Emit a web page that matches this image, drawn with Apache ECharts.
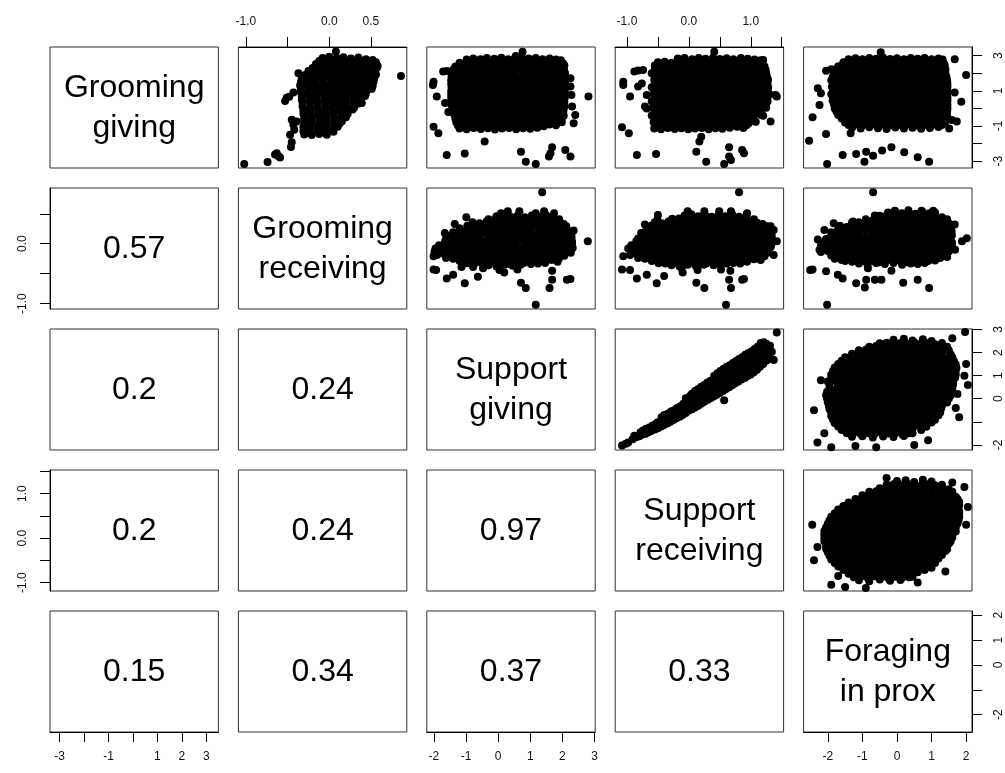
<!DOCTYPE html>
<html><head><meta charset="utf-8">
<script src="https://cdn.jsdelivr.net/npm/echarts@6/dist/echarts.min.js"></script>
<style>html,body{margin:0;padding:0;background:#fff}#c{width:1005px;height:773px}</style>
</head><body><div id="c"></div>
<script>
// ---------- variables & axes ----------
const varNames = ['Grooming\ngiving','Grooming\nreceiving','Support\ngiving','Support\nreceiving','Foraging\nin prox'];
const axisMin = [-3.39,-1.09,-2.22,-1.19,-2.70];
const axisMax = [3.49,0.93,3.02,1.53,2.17];
const tickValues = [[-3,-2,-1,0,1,2,3],[-1,-0.5,0,0.5],[-2,-1,0,1,2,3],[-1,-0.5,0,0.5,1,1.5],[-2,-1,0,1,2]];
const tickDecimals = [0,1,0,1,0];
const xLabelValues = [[-3,-1,1,2,3],[-1,0,0.5],[-2,-1,0,1,2,3],[-1,0,1],[-2,-1,0,1,2]];
const yLabelValues = [[-3,-1,1,3],[-1,0],[-2,0,1,2,3],[-1,0,1],[-2,0,1,2]];
// correlations, lower triangle: corrValues[i-1][j] for row i > column j
const corrValues = [[0.57],[0.2,0.24],[0.2,0.24,0.97],[0.15,0.34,0.37,0.33]];

// ---------- scatter panels: pNM = x: variable M, y: variable N ----------
const p12 = [[-1.02,-3.16],[-0.74,-3.05],[-0.65,-2.62],[-0.61,-2.72],[-0.59,-2.8],[-0.63,-2.55],[-0.46,-2.2],[-0.45,-1.92],[-0.47,-1.5],[-0.42,-1.22],[-0.43,-0.93],[-0.45,-0.64],[-0.39,-0.74],[-0.53,0.42],[-0.48,0.66],[-0.43,0.9],[-0.51,0.6],[-0.37,2.0],[0.86,1.84],[0.08,3.23],[0.39,0.3],[0.51,1.12],
[-0.08,2.87],[0.0,2.94],[0.09,2.86],[0.17,2.91],[0.26,2.84],[0.35,2.9],[0.44,2.79],[0.52,2.75],
[-0.16,2.53],[-0.07,2.47],[0.02,2.56],[0.1,2.5],[0.19,2.45],[0.27,2.54],[0.36,2.48],[0.44,2.44],[0.53,2.51],[0.58,2.41],
[-0.25,2.12],[-0.15,2.06],[-0.06,2.15],[0.03,2.09],[0.12,2.13],[0.2,2.05],[0.29,2.11],[0.38,2.07],[0.46,2.14],[0.55,2.08],
[-0.33,1.72],[-0.24,1.66],[-0.15,1.75],[-0.07,1.69],[0.02,1.71],[0.11,1.65],[0.2,1.74],[0.28,1.68],[0.37,1.72],[0.45,1.66],[0.54,1.7],
[-0.35,1.3],[-0.27,1.34],[-0.18,1.27],[-0.09,1.32],[0.0,1.28],[0.08,1.35],[0.17,1.29],[0.26,1.33],[0.34,1.26],[0.43,1.31],[0.52,1.27],
[-0.34,0.92],[-0.26,0.86],[-0.17,0.94],[-0.08,0.88],[0.01,0.91],[0.1,0.85],[0.18,0.93],[0.27,0.87],[0.36,0.9],[0.44,0.84],
[-0.33,0.5],[-0.24,0.54],[-0.15,0.47],[-0.06,0.52],[0.02,0.48],[0.11,0.55],[0.2,0.49],[0.29,0.53],[0.37,0.46],
[-0.32,0.12],[-0.23,0.06],[-0.14,0.14],[-0.05,0.08],[0.04,0.11],[0.12,0.05],[0.21,0.13],[0.3,0.07],
[-0.31,-0.3],[-0.22,-0.26],[-0.13,-0.33],[-0.04,-0.28],[0.05,-0.31],[0.14,-0.25],[0.22,-0.32],
[-0.3,-0.68],[-0.21,-0.73],[-0.12,-0.66],[-0.03,-0.71],[0.06,-0.69],[0.15,-0.74],
[-0.31,-1.08],[-0.22,-1.12],[-0.13,-1.06],[-0.04,-1.1],[0.05,-1.14],[0.1,-1.05],
[-0.3,-1.48],[-0.21,-1.52],[-0.12,-1.46],[-0.03,-1.5],
[-0.12,2.7],[-0.03,2.73],[0.06,2.68],[0.14,2.72],[0.23,2.67],[0.31,2.71],[0.4,2.69],[0.48,2.66],[0.56,2.62],
[-0.2,2.3],[-0.11,2.33],[-0.02,2.28],[0.07,2.32],[0.15,2.27],[0.24,2.31],[0.32,2.29],[0.41,2.34],[0.5,2.28],[0.57,2.3],
[-0.29,1.9],[-0.2,1.93],[-0.11,1.88],[-0.02,1.92],[0.07,1.87],[0.16,1.91],[0.24,1.89],[0.33,1.94],[0.42,1.88],[0.5,1.9],[0.56,1.92],
[-0.34,1.5],[-0.25,1.53],[-0.16,1.48],[-0.07,1.52],[0.02,1.47],[0.1,1.51],[0.19,1.49],[0.28,1.54],[0.36,1.48],[0.45,1.5],[0.53,1.52],
[-0.34,1.1],[-0.25,1.13],[-0.16,1.08],[-0.07,1.12],[0.02,1.07],[0.1,1.11],[0.19,1.09],[0.28,1.14],[0.36,1.08],[0.45,1.1],[0.5,1.12],
[-0.33,0.7],[-0.24,0.73],[-0.15,0.68],[-0.06,0.72],[0.03,0.67],[0.12,0.71],[0.2,0.69],[0.29,0.74],[0.38,0.68],[0.43,0.7],
[-0.32,0.3],[-0.23,0.33],[-0.14,0.28],[-0.05,0.32],[0.04,0.27],[0.12,0.31],[0.21,0.29],[0.3,0.34],[0.36,0.28],
[-0.31,-0.1],[-0.22,-0.07],[-0.13,-0.12],[-0.04,-0.08],[0.05,-0.13],[0.14,-0.09],[0.22,-0.11],[0.28,-0.06],
[-0.3,-0.5],[-0.21,-0.47],[-0.12,-0.52],[-0.03,-0.48],[0.06,-0.53],[0.15,-0.49],[0.2,-0.51],
[-0.3,-0.9],[-0.21,-0.87],[-0.12,-0.92],[-0.03,-0.88],[0.06,-0.93],[0.12,-0.89],
[-0.31,-1.3],[-0.22,-1.27],[-0.13,-1.32],[-0.04,-1.28],[0.05,-1.33]];

const p13 = [[0.76,3.22],[0.55,2.98],[-1.71,2.09],[-1.6,2.12],[-2.01,1.52],[-2.03,1.33],[-1.91,0.67],[-2.01,-1.04],[-1.86,-1.42],[-1.6,-2.65],[-1.04,-2.56],[-0.42,-1.89],[0.71,-2.46],[0.86,-3.03],[1.17,-3.16],[1.58,-2.74],[1.63,-2.55],[1.68,-2.21],[2.09,-2.37],[2.25,-2.74],[2.81,0.67],[2.35,-0.85],[2.4,-0.38],[2.3,0.1],[2.25,1.24],[2.28,0.76],[2.25,1.71],[-1.65,0.3],[-1.55,-0.2],
[-0.98,2.78],[-0.77,2.84],[-0.55,2.8],[-0.35,2.87],[-0.12,2.82],[0.1,2.88],[0.31,2.79],[0.52,2.85],[0.74,2.9],[0.95,2.83],[1.17,2.86],[1.38,2.8],[1.6,2.84],[1.8,2.78],[1.95,2.74],
[-1.33,2.38],[-1.12,2.44],[-0.9,2.36],[-0.67,2.42],[-0.47,2.4],[-0.25,2.45],[-0.03,2.37],[0.19,2.43],[0.41,2.39],[0.63,2.46],[0.85,2.38],[1.07,2.42],[1.29,2.36],[1.51,2.44],[1.73,2.4],[1.95,2.37],[2.06,2.45],
[-1.44,2.02],[-1.22,1.97],[-1.0,2.04],[-0.8,1.99],[-0.57,2.03],[-0.36,1.96],[-0.14,2.05],[0.08,1.98],[0.3,2.01],[0.52,1.95],[0.75,2.04],[0.96,1.99],[1.18,2.03],[1.4,1.97],[1.62,2.02],[1.84,1.96],[2.08,2.01],
[-1.46,1.6],[-1.33,1.64],[-1.11,1.57],[-0.89,1.62],[-0.68,1.58],[-0.46,1.65],[-0.24,1.59],[-0.02,1.63],[0.2,1.56],[0.42,1.61],[0.64,1.58],[0.86,1.64],[1.08,1.57],[1.3,1.62],[1.52,1.59],[1.74,1.63],[1.96,1.58],[2.1,1.62],
[-1.45,1.22],[-1.23,1.17],[-1.01,1.24],[-0.79,1.19],[-0.57,1.21],[-0.35,1.16],[-0.13,1.23],[0.09,1.18],[0.31,1.22],[0.53,1.15],[0.75,1.2],[0.97,1.24],[1.19,1.17],[1.41,1.21],[1.63,1.16],[1.85,1.23],[2.07,1.19],
[-1.46,0.8],[-1.34,0.84],[-1.12,0.77],[-0.9,0.82],[-0.68,0.78],[-0.46,0.85],[-0.24,0.79],[-0.02,0.83],[0.2,0.76],[0.42,0.81],[0.64,0.79],[0.86,0.84],[1.08,0.77],[1.3,0.82],[1.52,0.78],[1.74,0.83],[1.96,0.79],[2.1,0.82],
[-1.45,0.42],[-1.23,0.37],[-1.01,0.44],[-0.79,0.39],[-0.57,0.41],[-0.35,0.36],[-0.13,0.43],[0.09,0.38],[0.31,0.42],[0.53,0.35],[0.75,0.4],[0.97,0.44],[1.19,0.37],[1.41,0.41],[1.63,0.36],[1.85,0.43],[2.06,0.39],
[-1.42,0.0],[-1.32,0.04],[-1.1,-0.03],[-0.88,0.02],[-0.66,-0.02],[-0.44,0.05],[-0.22,-0.01],[0.0,0.03],[0.22,-0.04],[0.44,0.01],[0.66,-0.01],[0.88,0.04],[1.1,-0.03],[1.32,0.02],[1.54,-0.02],[1.76,0.03],[1.98,-0.01],[2.05,0.04],
[-1.36,-0.38],[-1.14,-0.43],[-0.92,-0.36],[-0.7,-0.41],[-0.48,-0.39],[-0.26,-0.44],[-0.04,-0.37],[0.18,-0.42],[0.4,-0.38],[0.62,-0.45],[0.84,-0.4],[1.06,-0.36],[1.28,-0.43],[1.5,-0.39],[1.72,-0.44],[1.94,-0.37],[2.04,-0.42],
[-1.3,-0.8],[-1.08,-0.76],[-0.86,-0.83],[-0.64,-0.78],[-0.42,-0.82],[-0.2,-0.75],[0.02,-0.81],[0.24,-0.77],[0.46,-0.84],[0.68,-0.79],[0.9,-0.82],[1.12,-0.76],[1.34,-0.81],[1.56,-0.78],[1.78,-0.83],[1.98,-0.79],
[-1.2,-1.14],[-0.98,-1.19],[-0.76,-1.12],[-0.54,-1.17],[-0.32,-1.13],[-0.1,-1.2],[0.12,-1.15],[0.34,-1.11],[0.56,-1.18],[0.78,-1.13],[1.0,-1.16],[1.22,-1.1],[1.42,-1.02],
[-1.2,2.6],[-0.98,2.63],[-0.76,2.58],[-0.54,2.62],[-0.32,2.59],[-0.1,2.64],[0.12,2.6],[0.34,2.57],[0.56,2.63],[0.78,2.6],[1.0,2.58],[1.22,2.62],[1.44,2.59],[1.66,2.64],[1.88,2.6],[2.02,2.57],
[-1.4,2.2],[-1.23,2.23],[-1.01,2.18],[-0.79,2.22],[-0.57,2.19],[-0.35,2.24],[-0.13,2.2],[0.09,2.17],[0.31,2.23],[0.53,2.2],[0.75,2.18],[0.97,2.22],[1.19,2.19],[1.41,2.24],[1.63,2.2],[1.85,2.17],[2.05,2.21],
[-1.45,1.8],[-1.23,1.83],[-1.01,1.78],[-0.79,1.82],[-0.57,1.79],[-0.35,1.84],[-0.13,1.8],[0.09,1.77],[0.31,1.83],[0.53,1.8],[0.75,1.78],[0.97,1.82],[1.19,1.79],[1.41,1.84],[1.63,1.8],[1.85,1.77],[2.07,1.81],
[-1.46,1.4],[-1.23,1.43],[-1.01,1.38],[-0.79,1.42],[-0.57,1.39],[-0.35,1.44],[-0.13,1.4],[0.09,1.37],[0.31,1.43],[0.53,1.4],[0.75,1.38],[0.97,1.42],[1.19,1.39],[1.41,1.44],[1.63,1.4],[1.85,1.37],[2.07,1.41],
[-1.46,1.0],[-1.23,1.03],[-1.01,0.98],[-0.79,1.02],[-0.57,0.99],[-0.35,1.04],[-0.13,1.0],[0.09,0.97],[0.31,1.03],[0.53,1.0],[0.75,0.98],[0.97,1.02],[1.19,0.99],[1.41,1.04],[1.63,1.0],[1.85,0.97],[2.07,1.01],
[-1.46,0.6],[-1.23,0.63],[-1.01,0.58],[-0.79,0.62],[-0.57,0.59],[-0.35,0.64],[-0.13,0.6],[0.09,0.57],[0.31,0.63],[0.53,0.6],[0.75,0.58],[0.97,0.62],[1.19,0.59],[1.41,0.64],[1.63,0.6],[1.85,0.57],[2.07,0.61],
[-1.45,0.2],[-1.23,0.23],[-1.01,0.18],[-0.79,0.22],[-0.57,0.19],[-0.35,0.24],[-0.13,0.2],[0.09,0.17],[0.31,0.23],[0.53,0.2],[0.75,0.18],[0.97,0.22],[1.19,0.19],[1.41,0.24],[1.63,0.2],[1.85,0.17],[2.06,0.21],
[-1.4,-0.2],[-1.23,-0.17],[-1.01,-0.22],[-0.79,-0.18],[-0.57,-0.21],[-0.35,-0.16],[-0.13,-0.2],[0.09,-0.23],[0.31,-0.17],[0.53,-0.2],[0.75,-0.22],[0.97,-0.18],[1.19,-0.21],[1.41,-0.16],[1.63,-0.2],[1.85,-0.23],[2.03,-0.19],
[-1.33,-0.6],[-1.12,-0.57],[-0.9,-0.62],[-0.68,-0.58],[-0.46,-0.61],[-0.24,-0.56],[-0.02,-0.6],[0.2,-0.63],[0.42,-0.57],[0.64,-0.6],[0.86,-0.62],[1.08,-0.58],[1.3,-0.61],[1.52,-0.56],[1.74,-0.6],[1.98,-0.61],
[-1.25,-0.97],[-1.03,-0.94],[-0.81,-0.99],[-0.59,-0.95],[-0.37,-0.98],[-0.15,-0.93],[0.07,-0.97],[0.29,-1.0],[0.51,-0.94],[0.73,-0.97],[0.95,-0.99],[1.17,-0.95],[1.39,-0.9],[1.6,-0.92],[1.8,-0.96]];

const p14 = [[0.41,3.22],[-1.06,1.52],[-1.06,1.33],[-0.95,0.67],[-0.88,2.09],[-0.82,2.15],[-0.74,2.18],[-0.52,2.47],[-0.39,2.52],[-0.68,0.76],[-0.76,1.42],[-0.82,1.24],[-0.71,0.1],[-0.68,0.0],[-1.08,-1.08],[-0.97,-1.42],[-0.84,-2.65],[-0.53,-2.59],[0.12,-2.46],[0.28,-3.03],[0.17,-1.89],[0.2,-1.61],[0.57,-3.16],[0.65,-2.21],[0.65,-2.74],[0.68,-2.93],[0.86,-2.37],[0.89,-2.55],[1.32,-0.75],[1.4,0.76],[1.42,0.67],[1.2,2.75],
[-0.18,2.83],[-0.07,2.87],[0.05,2.8],[0.16,2.86],[0.27,2.82],[0.39,2.88],[0.5,2.81],[0.61,2.85],[0.72,2.79],[0.84,2.86],[0.95,2.82],[1.06,2.78],[1.16,2.74],
[-0.55,2.44],[-0.44,2.4],[-0.33,2.46],[-0.22,2.39],[-0.11,2.43],[0.0,2.37],[0.11,2.45],[0.22,2.41],[0.34,2.38],[0.45,2.44],[0.56,2.4],[0.67,2.46],[0.78,2.38],[0.89,2.42],[1.0,2.36],[1.11,2.44],[1.22,2.4],
[-0.6,2.0],[-0.49,2.05],[-0.38,1.98],[-0.27,2.03],[-0.16,1.99],[-0.05,2.06],[0.06,2.0],[0.17,2.04],[0.28,1.97],[0.39,2.02],[0.5,1.99],[0.61,2.05],[0.72,1.98],[0.83,2.03],[0.94,1.96],[1.05,2.01],[1.16,2.04],[1.25,1.99],
[-0.56,1.63],[-0.45,1.58],[-0.34,1.65],[-0.23,1.6],[-0.12,1.62],[-0.01,1.57],[0.1,1.64],[0.21,1.59],[0.32,1.63],[0.43,1.56],[0.54,1.61],[0.65,1.65],[0.76,1.58],[0.87,1.62],[0.98,1.57],[1.09,1.64],[1.2,1.6],[1.28,1.63],
[-0.6,1.2],[-0.49,1.25],[-0.38,1.18],[-0.27,1.23],[-0.16,1.19],[-0.05,1.26],[0.06,1.2],[0.17,1.24],[0.28,1.17],[0.39,1.22],[0.5,1.19],[0.61,1.25],[0.72,1.18],[0.83,1.23],[0.94,1.16],[1.05,1.21],[1.16,1.24],[1.28,1.19],
[-0.57,0.83],[-0.46,0.78],[-0.35,0.85],[-0.24,0.8],[-0.13,0.82],[-0.02,0.77],[0.09,0.84],[0.2,0.79],[0.31,0.83],[0.42,0.76],[0.53,0.81],[0.64,0.85],[0.75,0.78],[0.86,0.82],[0.97,0.77],[1.08,0.84],[1.19,0.8],[1.3,0.82],
[-0.6,0.4],[-0.49,0.45],[-0.38,0.38],[-0.27,0.43],[-0.16,0.39],[-0.05,0.46],[0.06,0.4],[0.17,0.44],[0.28,0.37],[0.39,0.42],[0.5,0.39],[0.61,0.45],[0.72,0.38],[0.83,0.43],[0.94,0.36],[1.05,0.41],[1.16,0.44],[1.27,0.39],
[-0.58,0.03],[-0.47,-0.02],[-0.36,0.05],[-0.25,0.0],[-0.14,0.02],[-0.03,-0.03],[0.08,0.04],[0.19,-0.01],[0.3,0.03],[0.41,-0.04],[0.52,0.01],[0.63,0.05],[0.74,-0.02],[0.85,0.02],[0.96,-0.03],[1.07,0.04],[1.18,0.0],[1.25,0.03],
[-0.6,-0.4],[-0.49,-0.35],[-0.38,-0.42],[-0.27,-0.37],[-0.16,-0.41],[-0.05,-0.34],[0.06,-0.4],[0.17,-0.36],[0.28,-0.43],[0.39,-0.38],[0.5,-0.41],[0.61,-0.35],[0.72,-0.42],[0.83,-0.37],[0.94,-0.44],[1.05,-0.39],[1.16,-0.36],[1.2,-0.42],
[-0.57,-0.77],[-0.46,-0.82],[-0.35,-0.75],[-0.24,-0.8],[-0.13,-0.78],[-0.02,-0.83],[0.09,-0.76],[0.2,-0.81],[0.31,-0.77],[0.42,-0.84],[0.53,-0.79],[0.64,-0.75],[0.75,-0.82],[0.86,-0.78],[0.97,-0.83],[1.08,-0.76],
[-0.56,-1.14],[-0.45,-1.18],[-0.34,-1.12],[-0.23,-1.17],[-0.12,-1.13],[-0.01,-1.19],[0.1,-1.15],[0.21,-1.11],[0.32,-1.18],[0.43,-1.13],[0.54,-1.16],[0.66,-1.1],[0.78,-1.05],[0.88,-1.12],
[-0.5,2.62],[-0.39,2.65],[-0.28,2.6],[-0.17,2.64],[-0.06,2.61],[0.05,2.66],[0.16,2.62],[0.27,2.59],[0.38,2.65],[0.49,2.62],[0.6,2.6],[0.71,2.64],[0.82,2.61],[0.93,2.66],[1.04,2.62],[1.15,2.59],
[-0.55,2.22],[-0.5,2.25],[-0.39,2.2],[-0.28,2.24],[-0.17,2.21],[-0.06,2.26],[0.05,2.22],[0.16,2.19],[0.27,2.25],[0.38,2.22],[0.49,2.2],[0.6,2.24],[0.71,2.21],[0.82,2.26],[0.93,2.22],[1.04,2.19],[1.15,2.23],[1.24,2.2],
[-0.55,1.82],[-0.5,1.85],[-0.39,1.8],[-0.28,1.84],[-0.17,1.81],[-0.06,1.86],[0.05,1.82],[0.16,1.79],[0.27,1.85],[0.38,1.82],[0.49,1.8],[0.6,1.84],[0.71,1.81],[0.82,1.86],[0.93,1.82],[1.04,1.79],[1.15,1.83],[1.26,1.8],
[-0.55,1.42],[-0.5,1.45],[-0.39,1.4],[-0.28,1.44],[-0.17,1.41],[-0.06,1.46],[0.05,1.42],[0.16,1.39],[0.27,1.45],[0.38,1.42],[0.49,1.4],[0.6,1.44],[0.71,1.41],[0.82,1.46],[0.93,1.42],[1.04,1.39],[1.15,1.43],[1.27,1.4],
[-0.55,1.02],[-0.5,1.05],[-0.39,1.0],[-0.28,1.04],[-0.17,1.01],[-0.06,1.06],[0.05,1.02],[0.16,0.99],[0.27,1.05],[0.38,1.02],[0.49,1.0],[0.6,1.04],[0.71,1.01],[0.82,1.06],[0.93,1.02],[1.04,0.99],[1.15,1.03],[1.27,1.0],
[-0.55,0.62],[-0.5,0.65],[-0.39,0.6],[-0.28,0.64],[-0.17,0.61],[-0.06,0.66],[0.05,0.62],[0.16,0.59],[0.27,0.65],[0.38,0.62],[0.49,0.6],[0.6,0.64],[0.71,0.61],[0.82,0.66],[0.93,0.62],[1.04,0.59],[1.15,0.63],[1.27,0.6],
[-0.55,0.22],[-0.5,0.25],[-0.39,0.2],[-0.28,0.24],[-0.17,0.21],[-0.06,0.26],[0.05,0.22],[0.16,0.19],[0.27,0.25],[0.38,0.22],[0.49,0.2],[0.6,0.24],[0.71,0.21],[0.82,0.26],[0.93,0.22],[1.04,0.19],[1.15,0.23],[1.24,0.2],
[-0.55,-0.18],[-0.5,-0.15],[-0.39,-0.2],[-0.28,-0.16],[-0.17,-0.19],[-0.06,-0.14],[0.05,-0.18],[0.16,-0.21],[0.27,-0.15],[0.38,-0.18],[0.49,-0.2],[0.6,-0.16],[0.71,-0.19],[0.82,-0.14],[0.93,-0.18],[1.04,-0.21],[1.15,-0.17],
[-0.55,-0.58],[-0.5,-0.55],[-0.39,-0.6],[-0.28,-0.56],[-0.17,-0.59],[-0.06,-0.54],[0.05,-0.58],[0.16,-0.61],[0.27,-0.55],[0.38,-0.58],[0.49,-0.6],[0.6,-0.56],[0.71,-0.59],[0.82,-0.54],[0.93,-0.58],[1.04,-0.61],
[-0.55,-0.96],[-0.5,-0.93],[-0.39,-0.98],[-0.28,-0.94],[-0.17,-0.97],[-0.06,-0.92],[0.05,-0.96],[0.16,-0.99],[0.27,-0.93],[0.38,-0.96],[0.49,-0.98],[0.6,-0.94],[0.71,-0.97],[0.82,-0.92],[0.93,-0.96]];

const p15 = [[-0.47,3.19],[1.67,2.79],[2.0,1.9],[1.86,0.38],[1.67,0.91],[-2.44,-0.51],[-2.54,-1.84],[-2.05,-1.46],[-2.02,-3.16],[-1.57,-2.65],[-1.18,-2.59],[-0.89,-2.46],[-0.94,-3.03],[-0.69,-2.7],[-0.43,-2.4],[-0.16,-2.21],[0.21,-2.5],[0.6,-2.78],[0.93,-3.03],[1.59,-0.66],[1.73,-0.75],[1.51,-1.14],[-1.34,-1.42],[-2.29,1.14],[-2.2,0.86],[-2.05,2.14],[-1.9,2.22],[-2.24,0.19],
[-1.4,2.8],[-1.2,2.85],[-1.0,2.79],[-0.8,2.86],[-0.6,2.82],[-0.4,2.88],[-0.2,2.81],[0.0,2.85],[0.2,2.79],[0.4,2.86],[0.6,2.82],[0.8,2.87],[1.0,2.8],[1.2,2.84],[1.32,2.78],
[-1.7,2.4],[-1.5,2.45],[-1.3,2.38],[-1.1,2.43],[-0.9,2.39],[-0.7,2.46],[-0.5,2.4],[-0.3,2.44],[-0.1,2.37],[0.1,2.42],[0.3,2.39],[0.5,2.45],[0.7,2.38],[0.9,2.43],[1.1,2.36],[1.3,2.41],[1.38,2.45],
[-1.8,2.03],[-1.6,1.98],[-1.4,2.05],[-1.2,2.0],[-1.0,2.02],[-0.8,1.97],[-0.6,2.04],[-0.4,1.99],[-0.2,2.03],[0.0,1.96],[0.2,2.01],[0.4,2.05],[0.6,1.98],[0.8,2.02],[1.0,1.97],[1.2,2.04],[1.4,2.0],
[-1.9,1.6],[-1.7,1.65],[-1.5,1.58],[-1.3,1.63],[-1.1,1.59],[-0.9,1.66],[-0.7,1.6],[-0.5,1.64],[-0.3,1.57],[-0.1,1.62],[0.1,1.59],[0.3,1.65],[0.5,1.58],[0.7,1.63],[0.9,1.56],[1.1,1.61],[1.3,1.64],[1.45,1.6],
[-1.88,1.23],[-1.68,1.18],[-1.48,1.25],[-1.28,1.2],[-1.08,1.22],[-0.88,1.17],[-0.68,1.24],[-0.48,1.19],[-0.28,1.23],[-0.08,1.16],[0.12,1.21],[0.32,1.25],[0.52,1.18],[0.72,1.22],[0.92,1.17],[1.12,1.24],[1.32,1.2],[1.46,1.22],
[-1.9,0.8],[-1.7,0.85],[-1.5,0.78],[-1.3,0.83],[-1.1,0.79],[-0.9,0.86],[-0.7,0.8],[-0.5,0.84],[-0.3,0.77],[-0.1,0.82],[0.1,0.79],[0.3,0.85],[0.5,0.78],[0.7,0.83],[0.9,0.76],[1.1,0.81],[1.3,0.84],[1.45,0.79],
[-1.86,0.43],[-1.66,0.38],[-1.46,0.45],[-1.26,0.4],[-1.06,0.42],[-0.86,0.37],[-0.66,0.44],[-0.46,0.39],[-0.26,0.43],[-0.06,0.36],[0.14,0.41],[0.34,0.45],[0.54,0.38],[0.74,0.42],[0.94,0.37],[1.14,0.44],[1.34,0.4],[1.46,0.43],
[-1.8,0.0],[-1.6,0.05],[-1.4,-0.02],[-1.2,0.03],[-1.0,-0.01],[-0.8,0.06],[-0.6,0.0],[-0.4,0.04],[-0.2,-0.03],[0.0,0.02],[0.2,-0.01],[0.4,0.05],[0.6,-0.02],[0.8,0.03],[1.0,-0.04],[1.2,0.01],[1.4,0.04],[1.46,-0.01],
[-1.7,-0.37],[-1.5,-0.42],[-1.3,-0.35],[-1.1,-0.4],[-0.9,-0.38],[-0.7,-0.43],[-0.5,-0.36],[-0.3,-0.41],[-0.1,-0.37],[0.1,-0.44],[0.3,-0.39],[0.5,-0.35],[0.7,-0.42],[0.9,-0.38],[1.1,-0.43],[1.3,-0.36],[1.45,-0.4],
[-1.5,-0.8],[-1.3,-0.75],[-1.1,-0.82],[-0.9,-0.77],[-0.7,-0.81],[-0.5,-0.74],[-0.3,-0.8],[-0.1,-0.76],[0.1,-0.83],[0.3,-0.78],[0.5,-0.81],[0.7,-0.75],[0.9,-0.82],[1.1,-0.77],[1.3,-0.84],[1.4,-0.78],
[-1.3,-1.1],[-1.05,-1.15],[-0.8,-1.08],[-0.55,-1.13],[-0.3,-1.17],[-0.05,-1.09],[0.2,-1.14],[0.45,-1.1],[0.7,-1.16],[0.95,-1.11],[1.2,-1.06],
[-1.55,2.62],[-1.35,2.65],[-1.15,2.6],[-0.95,2.64],[-0.75,2.61],[-0.55,2.66],[-0.35,2.62],[-0.15,2.59],[0.05,2.65],[0.25,2.62],[0.45,2.6],[0.65,2.64],[0.85,2.61],[1.05,2.66],[1.25,2.62],[1.35,2.58],
[-1.75,2.22],[-1.55,2.25],[-1.35,2.2],[-1.15,2.24],[-0.95,2.21],[-0.75,2.26],[-0.55,2.22],[-0.35,2.19],[-0.15,2.25],[0.05,2.22],[0.25,2.2],[0.45,2.24],[0.65,2.21],[0.85,2.26],[1.05,2.22],[1.25,2.19],[1.4,2.23],
[-1.85,1.82],[-1.65,1.85],[-1.45,1.8],[-1.25,1.84],[-1.05,1.81],[-0.85,1.86],[-0.65,1.82],[-0.45,1.79],[-0.25,1.85],[-0.05,1.82],[0.15,1.8],[0.35,1.84],[0.55,1.81],[0.75,1.86],[0.95,1.82],[1.15,1.79],[1.35,1.83],[1.43,1.8],
[-1.85,1.42],[-1.65,1.45],[-1.45,1.4],[-1.25,1.44],[-1.05,1.41],[-0.85,1.46],[-0.65,1.42],[-0.45,1.39],[-0.25,1.45],[-0.05,1.42],[0.15,1.4],[0.35,1.44],[0.55,1.41],[0.75,1.46],[0.95,1.42],[1.15,1.39],[1.35,1.43],[1.46,1.4],
[-1.85,1.02],[-1.65,1.05],[-1.45,1.0],[-1.25,1.04],[-1.05,1.01],[-0.85,1.06],[-0.65,1.02],[-0.45,0.99],[-0.25,1.05],[-0.05,1.02],[0.15,1.0],[0.35,1.04],[0.55,1.01],[0.75,1.06],[0.95,1.02],[1.15,0.99],[1.35,1.03],[1.46,1.0],
[-1.85,0.62],[-1.65,0.65],[-1.45,0.6],[-1.25,0.64],[-1.05,0.61],[-0.85,0.66],[-0.65,0.62],[-0.45,0.59],[-0.25,0.65],[-0.05,0.62],[0.15,0.6],[0.35,0.64],[0.55,0.61],[0.75,0.66],[0.95,0.62],[1.15,0.59],[1.35,0.63],[1.46,0.6],
[-1.82,0.22],[-1.65,0.25],[-1.45,0.2],[-1.25,0.24],[-1.05,0.21],[-0.85,0.26],[-0.65,0.22],[-0.45,0.19],[-0.25,0.25],[-0.05,0.22],[0.15,0.2],[0.35,0.24],[0.55,0.21],[0.75,0.26],[0.95,0.22],[1.15,0.19],[1.35,0.23],[1.46,0.2],
[-1.75,-0.18],[-1.55,-0.15],[-1.35,-0.2],[-1.15,-0.16],[-0.95,-0.19],[-0.75,-0.14],[-0.55,-0.18],[-0.35,-0.21],[-0.15,-0.15],[0.05,-0.18],[0.25,-0.2],[0.45,-0.16],[0.65,-0.19],[0.85,-0.14],[1.05,-0.18],[1.25,-0.21],[1.45,-0.17],
[-1.6,-0.58],[-1.4,-0.55],[-1.2,-0.6],[-1.0,-0.56],[-0.8,-0.59],[-0.6,-0.54],[-0.4,-0.58],[-0.2,-0.61],[0.0,-0.55],[0.2,-0.58],[0.4,-0.6],[0.6,-0.56],[0.8,-0.59],[1.0,-0.54],[1.2,-0.58],[1.42,-0.61],
[-1.4,-0.95],[-1.2,-0.92],[-1.0,-0.97],[-0.8,-0.93],[-0.6,-0.96],[-0.4,-0.91],[-0.2,-0.95],[0.0,-0.98],[0.2,-0.92],[0.4,-0.95],[0.6,-0.97],[0.8,-0.93],[1.0,-0.96],[1.2,-0.91],[1.3,-0.95]];

const p23 = [[1.37,0.86],[1.17,-1.02],[2.79,0.04],[2.35,0.22],[2.3,0.01],[2.32,-0.07],[-2.01,-0.21],[-2.01,-0.43],[-1.93,-0.44],[-1.6,-0.58],[-1.4,-0.52],[-1.04,-0.66],[-0.63,-0.55],[0.71,-0.65],[0.86,-0.74],[1.68,-0.45],[1.68,-0.6],[1.6,-0.74],[2.14,-0.6],[2.25,-0.59],[-1.66,0.18],[-1.35,0.33],[-0.99,0.44],[0.09,0.51],[0.3,0.54],[0.66,0.54],[1.17,0.51],[1.43,0.54],[1.74,0.51],[0.19,-0.48],[0.6,-0.43],[0.04,-0.44],[-1.14,-0.39],[-0.78,-0.39],[-0.47,-0.41],
[-0.05,0.46],[0.17,0.48],[0.39,0.45],[0.61,0.47],[0.83,0.44],[1.05,0.47],[1.27,0.45],[1.49,0.48],[1.68,0.44],
[-0.8,0.36],[-0.58,0.34],[-0.36,0.37],[-0.14,0.35],[0.08,0.38],[0.3,0.34],[0.52,0.36],[0.74,0.33],[0.96,0.37],[1.18,0.35],[1.4,0.38],[1.62,0.34],[1.84,0.36],[2.04,0.33],
[-1.2,0.26],[-0.98,0.23],[-0.76,0.27],[-0.54,0.24],[-0.32,0.25],[-0.1,0.22],[0.12,0.27],[0.34,0.24],[0.56,0.26],[0.78,0.22],[1.0,0.25],[1.22,0.28],[1.44,0.23],[1.66,0.26],[1.88,0.22],[2.1,0.25],[2.2,0.21],
[-1.45,0.14],[-1.23,0.16],[-1.01,0.12],[-0.79,0.15],[-0.57,0.13],[-0.35,0.17],[-0.13,0.14],[0.09,0.16],[0.31,0.11],[0.53,0.15],[0.75,0.13],[0.97,0.16],[1.19,0.12],[1.41,0.15],[1.63,0.11],[1.85,0.14],[2.07,0.16],[2.28,0.12],
[-1.65,0.04],[-1.43,0.01],[-1.21,0.05],[-0.99,0.02],[-0.77,0.03],[-0.55,0.0],[-0.33,0.05],[-0.11,0.02],[0.11,0.04],[0.33,0.0],[0.55,0.03],[0.77,0.06],[0.99,0.01],[1.21,0.04],[1.43,0.0],[1.65,0.03],[1.87,0.05],[2.09,0.01],[2.3,0.03],
[-1.95,-0.08],[-1.73,-0.06],[-1.51,-0.1],[-1.29,-0.07],[-1.07,-0.09],[-0.85,-0.05],[-0.63,-0.08],[-0.41,-0.06],[-0.19,-0.1],[0.03,-0.07],[0.25,-0.09],[0.47,-0.05],[0.69,-0.08],[0.91,-0.1],[1.13,-0.06],[1.35,-0.09],[1.57,-0.05],[1.79,-0.08],[2.01,-0.1],[2.25,-0.07],
[-1.9,-0.19],[-1.68,-0.17],[-1.46,-0.2],[-1.24,-0.18],[-1.02,-0.21],[-0.8,-0.17],[-0.58,-0.19],[-0.36,-0.22],[-0.14,-0.18],[0.08,-0.2],[0.3,-0.17],[0.52,-0.21],[0.74,-0.19],[0.96,-0.16],[1.18,-0.2],[1.4,-0.18],[1.62,-0.21],[1.84,-0.17],[2.06,-0.2],
[-1.2,-0.29],[-0.98,-0.31],[-0.76,-0.28],[-0.54,-0.3],[-0.32,-0.27],[-0.1,-0.31],[0.12,-0.29],[0.34,-0.32],[0.56,-0.28],[0.78,-0.3],[1.0,-0.27],[1.22,-0.31],[1.44,-0.29],[1.66,-0.27],[1.85,-0.3],
[-0.3,-0.36],[-0.05,-0.38],[0.2,-0.35],[0.45,-0.37],[0.7,-0.35],
[-0.3,0.41],[-0.08,0.42],[0.14,0.4],[0.36,0.42],[0.58,0.41],[0.8,0.39],[1.02,0.42],[1.24,0.4],[1.46,0.41],[1.68,0.39],[1.9,0.41],
[-0.96,0.3],[-0.74,0.31],[-0.52,0.29],[-0.3,0.31],[-0.08,0.3],[0.14,0.28],[0.36,0.31],[0.58,0.29],[0.8,0.3],[1.02,0.28],[1.24,0.31],[1.46,0.29],[1.68,0.3],[1.9,0.32],[2.12,0.29],
[-1.4,0.19],[-1.18,0.2],[-0.96,0.18],[-0.74,0.2],[-0.52,0.19],[-0.3,0.17],[-0.08,0.2],[0.14,0.18],[0.36,0.19],[0.58,0.17],[0.8,0.2],[1.02,0.18],[1.24,0.19],[1.46,0.21],[1.68,0.18],[1.9,0.2],[2.12,0.19],[2.28,0.17],
[-1.62,0.085],[-1.4,0.09],[-1.18,0.07],[-0.96,0.09],[-0.74,0.08],[-0.52,0.06],[-0.3,0.09],[-0.08,0.07],[0.14,0.08],[0.36,0.06],[0.58,0.09],[0.8,0.07],[1.02,0.08],[1.24,0.1],[1.46,0.07],[1.68,0.09],[1.9,0.08],[2.12,0.06],[2.28,0.09],
[-1.84,-0.025],[-1.62,-0.02],[-1.4,-0.04],[-1.18,-0.02],[-0.96,-0.03],[-0.74,-0.05],[-0.52,-0.02],[-0.3,-0.04],[-0.08,-0.03],[0.14,-0.05],[0.36,-0.02],[0.58,-0.04],[0.8,-0.03],[1.02,-0.01],[1.24,-0.04],[1.46,-0.02],[1.68,-0.03],[1.9,-0.05],[2.12,-0.02],[2.28,-0.03],
[-1.98,-0.135],[-1.84,-0.13],[-1.62,-0.15],[-1.4,-0.13],[-1.18,-0.14],[-0.96,-0.16],[-0.74,-0.13],[-0.52,-0.15],[-0.3,-0.14],[-0.08,-0.16],[0.14,-0.13],[0.36,-0.15],[0.58,-0.14],[0.8,-0.12],[1.02,-0.15],[1.24,-0.13],[1.46,-0.14],[1.68,-0.16],[1.9,-0.13],[2.12,-0.14],[2.26,-0.15],
[-1.62,-0.24],[-1.4,-0.25],[-1.18,-0.23],[-0.96,-0.25],[-0.74,-0.24],[-0.52,-0.26],[-0.3,-0.23],[-0.08,-0.25],[0.14,-0.24],[0.36,-0.26],[0.58,-0.23],[0.8,-0.25],[1.02,-0.24],[1.24,-0.22],[1.46,-0.25],[1.68,-0.23],[1.9,-0.24],
[-0.96,-0.325],[-0.74,-0.33],[-0.52,-0.32],[-0.3,-0.34],[-0.08,-0.33],[0.14,-0.32],[0.36,-0.34],[0.58,-0.33],[0.8,-0.32],[1.02,-0.34],[1.24,-0.33],[1.46,-0.32]];

const p24 = [[0.81,0.86],[0.6,-1.02],[-1.06,-0.21],[-1.08,-0.43],[-0.95,-0.44],[-0.84,-0.58],[-0.68,-0.52],[-0.52,-0.66],[-0.4,-0.54],[0.12,-0.65],[0.25,-0.74],[0.67,-0.45],[0.65,-0.6],[0.68,-0.74],[0.86,-0.6],[0.89,-0.59],[1.32,0.29],[1.37,0.23],[1.42,0.04],[1.37,-0.19],[1.16,-0.27],[-0.5,0.48],[-0.51,0.4],[-0.77,0.18],[-0.71,0.32],[-0.95,-0.07],[-0.02,0.54],[0.25,0.54],[0.49,0.54],[0.68,0.54],[0.94,0.51],[-0.1,-0.48],[0.14,-0.44],[-0.12,-0.41],[0.52,-0.43],
[-0.07,0.47],[0.04,0.49],[0.15,0.46],[0.26,0.48],[0.37,0.45],[0.48,0.48],[0.59,0.46],[0.7,0.49],[0.81,0.45],[0.93,0.47],
[-0.55,0.36],[-0.44,0.34],[-0.33,0.37],[-0.22,0.35],[-0.11,0.38],[0.0,0.34],[0.11,0.36],[0.22,0.33],[0.33,0.37],[0.44,0.35],[0.55,0.38],[0.66,0.34],[0.77,0.36],[0.88,0.33],[0.99,0.37],[1.1,0.35],[1.19,0.33],
[-0.65,0.26],[-0.54,0.23],[-0.43,0.27],[-0.32,0.24],[-0.21,0.25],[-0.1,0.22],[0.01,0.27],[0.12,0.24],[0.23,0.26],[0.34,0.22],[0.45,0.25],[0.56,0.28],[0.67,0.23],[0.78,0.26],[0.89,0.22],[1.0,0.25],[1.11,0.27],[1.22,0.23],[1.31,0.26],
[-0.73,0.14],[-0.62,0.16],[-0.51,0.12],[-0.4,0.15],[-0.29,0.13],[-0.18,0.17],[-0.07,0.14],[0.04,0.16],[0.15,0.11],[0.26,0.15],[0.37,0.13],[0.48,0.16],[0.59,0.12],[0.7,0.15],[0.81,0.11],[0.92,0.14],[1.03,0.16],[1.14,0.12],[1.25,0.15],[1.34,0.13],
[-0.85,0.04],[-0.74,0.01],[-0.63,0.05],[-0.52,0.02],[-0.41,0.03],[-0.3,0.0],[-0.19,0.05],[-0.08,0.02],[0.03,0.04],[0.14,0.0],[0.25,0.03],[0.36,0.06],[0.47,0.01],[0.58,0.04],[0.69,0.0],[0.8,0.03],[0.91,0.05],[1.02,0.01],[1.13,0.04],[1.24,0.0],[1.34,0.03],
[-0.98,-0.08],[-0.87,-0.06],[-0.76,-0.1],[-0.65,-0.07],[-0.54,-0.09],[-0.43,-0.05],[-0.32,-0.08],[-0.21,-0.06],[-0.1,-0.1],[0.01,-0.07],[0.12,-0.09],[0.23,-0.05],[0.34,-0.08],[0.45,-0.1],[0.56,-0.06],[0.67,-0.09],[0.78,-0.05],[0.89,-0.08],[1.0,-0.1],[1.11,-0.07],[1.22,-0.09],[1.32,-0.06],
[-0.95,-0.19],[-0.84,-0.17],[-0.73,-0.2],[-0.62,-0.18],[-0.51,-0.21],[-0.4,-0.17],[-0.29,-0.19],[-0.18,-0.22],[-0.07,-0.18],[0.04,-0.2],[0.15,-0.17],[0.26,-0.21],[0.37,-0.19],[0.48,-0.16],[0.59,-0.2],[0.7,-0.18],[0.81,-0.21],[0.92,-0.17],[1.03,-0.2],[1.14,-0.18],[1.22,-0.21],
[-0.6,-0.29],[-0.49,-0.31],[-0.38,-0.28],[-0.27,-0.3],[-0.16,-0.27],[-0.05,-0.31],[0.06,-0.29],[0.17,-0.32],[0.28,-0.28],[0.39,-0.3],[0.5,-0.27],[0.61,-0.31],[0.72,-0.29],[0.83,-0.27],[0.94,-0.3],
[-0.28,-0.36],[-0.15,-0.38],[-0.02,-0.35],[0.11,-0.37],[0.24,-0.35],[0.4,-0.36],
[-0.27,0.415],[-0.16,0.42],[-0.05,0.4],[0.06,0.42],[0.17,0.41],[0.28,0.39],[0.39,0.42],[0.5,0.4],[0.61,0.41],[0.72,0.39],[0.83,0.42],[0.94,0.4],[1.05,0.41],
[-0.6,0.305],[-0.49,0.31],[-0.38,0.29],[-0.27,0.31],[-0.16,0.3],[-0.05,0.28],[0.06,0.31],[0.17,0.29],[0.28,0.3],[0.39,0.28],[0.5,0.31],[0.61,0.29],[0.72,0.3],[0.83,0.32],[0.94,0.29],[1.05,0.31],[1.16,0.3],[1.27,0.29],
[-0.71,0.195],[-0.6,0.2],[-0.49,0.18],[-0.38,0.2],[-0.27,0.19],[-0.16,0.17],[-0.05,0.2],[0.06,0.18],[0.17,0.19],[0.28,0.17],[0.39,0.2],[0.5,0.18],[0.61,0.19],[0.72,0.21],[0.83,0.18],[0.94,0.2],[1.05,0.19],[1.16,0.17],[1.27,0.2],[1.33,0.19],
[-0.82,0.085],[-0.71,0.09],[-0.6,0.07],[-0.49,0.09],[-0.38,0.08],[-0.27,0.06],[-0.16,0.09],[-0.05,0.07],[0.06,0.08],[0.17,0.06],[0.28,0.09],[0.39,0.07],[0.5,0.08],[0.61,0.1],[0.72,0.07],[0.83,0.09],[0.94,0.08],[1.05,0.06],[1.16,0.09],[1.27,0.07],[1.33,0.08],
[-0.93,-0.025],[-0.82,-0.02],[-0.71,-0.04],[-0.6,-0.02],[-0.49,-0.03],[-0.38,-0.05],[-0.27,-0.02],[-0.16,-0.04],[-0.05,-0.03],[0.06,-0.05],[0.17,-0.02],[0.28,-0.04],[0.39,-0.03],[0.5,-0.01],[0.61,-0.04],[0.72,-0.02],[0.83,-0.03],[0.94,-0.05],[1.05,-0.02],[1.16,-0.03],[1.27,-0.04],[1.33,-0.02],
[-0.93,-0.135],[-0.82,-0.13],[-0.71,-0.15],[-0.6,-0.13],[-0.49,-0.14],[-0.38,-0.16],[-0.27,-0.13],[-0.16,-0.15],[-0.05,-0.14],[0.06,-0.16],[0.17,-0.13],[0.28,-0.15],[0.39,-0.14],[0.5,-0.12],[0.61,-0.15],[0.72,-0.13],[0.83,-0.14],[0.94,-0.16],[1.05,-0.13],[1.16,-0.14],[1.27,-0.15],
[-0.82,-0.24],[-0.71,-0.25],[-0.6,-0.23],[-0.49,-0.25],[-0.38,-0.24],[-0.27,-0.26],[-0.16,-0.23],[-0.05,-0.25],[0.06,-0.24],[0.17,-0.26],[0.28,-0.23],[0.39,-0.25],[0.5,-0.24],[0.61,-0.22],[0.72,-0.25],[0.83,-0.23],[0.94,-0.24],[1.05,-0.26],
[-0.49,-0.325],[-0.38,-0.33],[-0.27,-0.32],[-0.16,-0.34],[-0.05,-0.33],[0.06,-0.32],[0.17,-0.34],[0.28,-0.33],[0.39,-0.32],[0.5,-0.34],[0.61,-0.33],[0.72,-0.32],[0.83,-0.33]];

const p25 = [[-0.69,0.86],[-2.02,-1.02],[-2.51,-0.44],[-2.44,-0.43],[-2.05,-0.46],[-1.57,-0.58],[-1.71,-0.52],[-1.18,-0.66],[-0.93,-0.73],[-0.89,-0.6],[-0.64,-0.6],[-0.45,-0.6],[-0.16,-0.45],[0.18,-0.65],[0.6,-0.6],[0.93,-0.74],[2.02,0.09],[1.88,0.04],[1.67,0.32],[1.54,-0.07],[1.68,-0.1],[-2.24,-0.1],[-2.29,0.07],[-2.1,0.23],[-1.83,0.34],[-1.66,0.26],[-1.27,0.37],[-0.64,0.47],[-0.59,0.44],[-0.06,0.55],[0.33,0.56],[0.71,0.55],[1.05,0.55],[-1.03,-0.27],[-0.84,-0.41],
[-0.26,0.52],[-0.06,0.54],[0.14,0.51],[0.34,0.53],[0.54,0.5],[0.74,0.53],[0.94,0.51],[1.1,0.52],
[-0.9,0.41],[-0.7,0.39],[-0.5,0.42],[-0.3,0.4],[-0.1,0.43],[0.1,0.39],[0.3,0.41],[0.5,0.38],[0.7,0.42],[0.9,0.4],[1.1,0.43],[1.3,0.39],[1.45,0.41],
[-1.65,0.3],[-1.45,0.28],[-1.25,0.31],[-1.05,0.29],[-0.85,0.32],[-0.65,0.28],[-0.45,0.3],[-0.25,0.27],[-0.05,0.31],[0.15,0.29],[0.35,0.32],[0.55,0.28],[0.75,0.3],[0.95,0.27],[1.15,0.31],[1.35,0.29],[1.55,0.3],
[-1.9,0.19],[-1.7,0.21],[-1.5,0.17],[-1.3,0.2],[-1.1,0.18],[-0.9,0.22],[-0.7,0.19],[-0.5,0.21],[-0.3,0.16],[-0.1,0.2],[0.1,0.18],[0.3,0.21],[0.5,0.17],[0.7,0.2],[0.9,0.16],[1.1,0.19],[1.3,0.21],[1.5,0.17],[1.58,0.2],
[-2.05,0.08],[-1.85,0.06],[-1.65,0.1],[-1.45,0.07],[-1.25,0.08],[-1.05,0.05],[-0.85,0.1],[-0.65,0.07],[-0.45,0.09],[-0.25,0.05],[-0.05,0.08],[0.15,0.11],[0.35,0.06],[0.55,0.09],[0.75,0.05],[0.95,0.08],[1.15,0.1],[1.35,0.06],[1.55,0.08],
[-2.2,-0.03],[-2.0,-0.01],[-1.8,-0.05],[-1.6,-0.02],[-1.4,-0.04],[-1.2,0.0],[-1.0,-0.03],[-0.8,-0.01],[-0.6,-0.05],[-0.4,-0.02],[-0.2,-0.04],[0.0,0.0],[0.2,-0.03],[0.4,-0.05],[0.6,-0.01],[0.8,-0.04],[1.0,0.0],[1.2,-0.03],[1.4,-0.05],[1.59,-0.02],
[-2.2,-0.14],[-2.0,-0.12],[-1.8,-0.15],[-1.6,-0.13],[-1.4,-0.16],[-1.2,-0.12],[-1.0,-0.14],[-0.8,-0.17],[-0.6,-0.13],[-0.4,-0.15],[-0.2,-0.12],[0.0,-0.16],[0.2,-0.14],[0.4,-0.11],[0.6,-0.15],[0.8,-0.13],[1.0,-0.16],[1.2,-0.12],[1.4,-0.15],[1.5,-0.13],
[-1.8,-0.25],[-1.6,-0.27],[-1.4,-0.24],[-1.2,-0.26],[-1.0,-0.23],[-0.8,-0.27],[-0.6,-0.25],[-0.4,-0.28],[-0.2,-0.24],[0.0,-0.26],[0.2,-0.23],[0.4,-0.27],[0.6,-0.25],[0.8,-0.23],[1.0,-0.26],[1.25,-0.24],
[-1.1,-0.33],[-0.85,-0.35],[-0.6,-0.32],[-0.35,-0.34],[-0.1,-0.32],[0.15,-0.35],[0.4,-0.33],[0.6,-0.34],[0.8,-0.32],
[-0.5,0.465],[-0.3,0.47],[-0.1,0.45],[0.1,0.47],[0.3,0.46],[0.5,0.44],[0.7,0.47],[0.9,0.45],[1.1,0.46],[1.3,0.44],
[-1.3,0.355],[-1.1,0.36],[-0.9,0.34],[-0.7,0.36],[-0.5,0.35],[-0.3,0.33],[-0.1,0.36],[0.1,0.34],[0.3,0.35],[0.5,0.33],[0.7,0.36],[0.9,0.34],[1.1,0.35],[1.3,0.37],[1.5,0.34],
[-1.7,0.245],[-1.5,0.25],[-1.3,0.23],[-1.1,0.25],[-0.9,0.24],[-0.7,0.22],[-0.5,0.25],[-0.3,0.23],[-0.1,0.24],[0.1,0.22],[0.3,0.25],[0.5,0.23],[0.7,0.24],[0.9,0.26],[1.1,0.23],[1.3,0.25],[1.5,0.24],[1.57,0.22],
[-1.9,0.135],[-1.7,0.14],[-1.5,0.12],[-1.3,0.14],[-1.1,0.13],[-0.9,0.11],[-0.7,0.14],[-0.5,0.12],[-0.3,0.13],[-0.1,0.11],[0.1,0.14],[0.3,0.12],[0.5,0.13],[0.7,0.15],[0.9,0.12],[1.1,0.14],[1.3,0.13],[1.5,0.11],[1.59,0.14],
[-2.1,0.025],[-1.9,0.03],[-1.7,0.01],[-1.5,0.03],[-1.3,0.02],[-1.1,0.0],[-0.9,0.03],[-0.7,0.01],[-0.5,0.02],[-0.3,0.0],[-0.1,0.03],[0.1,0.01],[0.3,0.02],[0.5,0.04],[0.7,0.01],[0.9,0.03],[1.1,0.02],[1.3,0.0],[1.5,0.03],[1.59,0.02],
[-2.1,-0.085],[-1.9,-0.08],[-1.7,-0.1],[-1.5,-0.08],[-1.3,-0.09],[-1.1,-0.11],[-0.9,-0.08],[-0.7,-0.1],[-0.5,-0.09],[-0.3,-0.11],[-0.1,-0.08],[0.1,-0.1],[0.3,-0.09],[0.5,-0.07],[0.7,-0.1],[0.9,-0.08],[1.1,-0.09],[1.3,-0.11],[1.5,-0.08],
[-1.9,-0.195],[-1.7,-0.19],[-1.5,-0.21],[-1.3,-0.19],[-1.1,-0.2],[-0.9,-0.22],[-0.7,-0.19],[-0.5,-0.21],[-0.3,-0.2],[-0.1,-0.22],[0.1,-0.19],[0.3,-0.21],[0.5,-0.2],[0.7,-0.18],[0.9,-0.21],[1.1,-0.19],[1.3,-0.2],[1.45,-0.22],
[-1.5,-0.29],[-1.3,-0.3],[-1.1,-0.28],[-0.9,-0.3],[-0.7,-0.29],[-0.5,-0.31],[-0.3,-0.28],[-0.1,-0.3],[0.1,-0.29],[0.3,-0.31],[0.5,-0.28],[0.7,-0.3],[0.9,-0.29],[1.1,-0.28]];

const p34 = [[-1.08,-2.03],[-0.98,-1.89],[1.42,2.87],[1.34,2.04],[1.37,1.68],[1.26,1.68],[1.29,2.26],[1.16,2.41],[0.57,-0.07],[0.92,0.95],
[-0.91,-1.75],[-0.88,-1.6],[-0.8,-1.62],[-0.78,-1.45],[-0.7,-1.52],[-0.69,-1.3],[-0.61,-1.4],[-0.59,-1.17],[-0.5,-1.28],[-0.51,-1.03],
[-0.41,-1.15],[-0.39,-0.9],[-0.4,-0.7],[-0.3,-1.0],[-0.31,-0.76],[-0.29,-0.55],[-0.2,-0.85],[-0.21,-0.62],[-0.19,-0.4],[-0.1,-0.7],[-0.11,-0.46],[-0.09,-0.22],
[0.0,-0.52],[0.01,-0.28],[-0.01,-0.04],[0.02,0.12],[0.1,-0.38],[0.11,-0.13],[0.09,0.12],[0.1,0.33],[0.2,-0.22],[0.21,0.03],[0.19,0.28],[0.2,0.52],
[0.3,-0.05],[0.31,0.2],[0.29,0.45],[0.3,0.7],[0.4,0.1],[0.41,0.35],[0.39,0.6],[0.4,0.85],[0.41,1.0],[0.5,0.25],[0.51,0.5],[0.49,0.75],[0.5,1.0],[0.51,1.2],
[0.6,0.42],[0.61,0.67],[0.59,0.92],[0.6,1.17],[0.61,1.38],[0.7,0.58],[0.71,0.83],[0.69,1.08],[0.7,1.33],[0.71,1.55],
[0.8,0.75],[0.81,1.0],[0.79,1.25],[0.8,1.5],[0.81,1.72],[0.9,0.9],[0.91,1.15],[0.89,1.4],[0.9,1.65],[0.91,1.9],
[1.0,1.05],[1.01,1.3],[0.99,1.55],[1.0,1.8],[1.01,2.05],[1.1,1.25],[1.11,1.5],[1.09,1.75],[1.1,2.0],[1.11,2.25],
[1.2,1.5],[1.21,1.75],[1.19,2.0],[1.2,2.25],[1.21,2.45],[1.3,1.8],[1.29,2.05],[1.31,2.3],
[-1.02,-1.95],[-0.85,-1.67],[-0.75,-1.55],[-0.74,-1.38],[-0.65,-1.45],[-0.64,-1.25],[-0.55,-1.33],[-0.54,-1.1],[-0.45,-1.2],[-0.46,-0.97],[-0.44,-0.8],
[-0.35,-1.07],[-0.36,-0.85],[-0.34,-0.65],[-0.25,-0.92],[-0.26,-0.72],[-0.24,-0.5],[-0.15,-0.78],[-0.16,-0.55],[-0.14,-0.32],
[-0.05,-0.62],[-0.06,-0.4],[-0.04,-0.15],[-0.05,0.02],[0.05,-0.45],[0.06,-0.2],[0.04,0.0],[0.05,0.22],[0.15,-0.3],[0.16,-0.05],[0.14,0.2],[0.15,0.42],
[0.25,-0.13],[0.26,0.1],[0.24,0.35],[0.25,0.6],[0.35,0.02],[0.36,0.27],[0.34,0.52],[0.35,0.78],[0.45,0.17],[0.46,0.42],[0.44,0.67],[0.45,0.92],[0.46,1.1],
[0.55,0.33],[0.56,0.58],[0.54,0.83],[0.55,1.08],[0.56,1.3],[0.65,0.5],[0.66,0.75],[0.64,1.0],[0.65,1.25],[0.66,1.45],
[0.75,0.67],[0.76,0.92],[0.74,1.17],[0.75,1.42],[0.76,1.63],[0.85,0.83],[0.86,1.08],[0.84,1.33],[0.85,1.58],[0.86,1.8],
[0.95,0.98],[0.96,1.23],[0.94,1.48],[0.95,1.73],[0.96,1.98],[1.05,1.15],[1.06,1.4],[1.04,1.65],[1.05,1.9],[1.06,2.15],
[1.15,1.38],[1.16,1.63],[1.14,1.88],[1.15,2.13],[1.16,2.35],[1.25,1.65],[1.26,1.9],[1.24,2.15],[1.25,2.38]];

const p35 = [[1.97,2.89],[1.6,2.62],[2.0,1.5],[1.95,1.0],[2.05,0.6],[1.8,-0.8],[-2.3,-1.9],[-2.1,-1.5],[-1.9,-2.1],[-2.4,-0.5],[-2.2,0.8],[0.9,-1.8],[0.5,-2.0],[-0.6,-2.1],[-1.2,-2.05],[1.75,0.2],[1.7,-0.4],
[-0.1,2.55],[0.2,2.6],[0.45,2.52],[0.75,2.58],[1.0,2.5],
[-0.8,2.25],[-0.6,2.28],[-0.4,2.22],[-0.2,2.27],[0.0,2.24],[0.2,2.29],[0.4,2.21],[0.6,2.26],[0.8,2.23],[1.0,2.28],[1.2,2.2],[1.45,2.25],
[-1.3,1.95],[-1.1,1.98],[-0.9,1.92],[-0.7,1.97],[-0.5,1.94],[-0.3,1.99],[-0.1,1.91],[0.1,1.96],[0.3,1.93],[0.5,1.98],[0.7,1.9],[0.9,1.95],[1.1,1.92],[1.3,1.97],[1.55,1.93],
[-1.6,1.65],[-1.4,1.62],[-1.2,1.68],[-1.0,1.63],[-0.8,1.66],[-0.6,1.61],[-0.4,1.67],[-0.2,1.64],[0.0,1.69],[0.2,1.62],[0.4,1.66],[0.6,1.6],[0.8,1.65],[1.0,1.68],[1.2,1.63],[1.4,1.66],[1.65,1.62],
[-1.8,1.35],[-1.6,1.38],[-1.4,1.32],[-1.2,1.37],[-1.0,1.34],[-0.8,1.39],[-0.6,1.31],[-0.4,1.36],[-0.2,1.33],[0.0,1.38],[0.2,1.3],[0.4,1.35],[0.6,1.32],[0.8,1.37],[1.0,1.34],[1.2,1.39],[1.4,1.31],[1.6,1.36],[1.72,1.33],
[-1.9,1.05],[-1.7,1.02],[-1.5,1.08],[-1.3,1.03],[-1.1,1.06],[-0.9,1.01],[-0.7,1.07],[-0.5,1.04],[-0.3,1.09],[-0.1,1.02],[0.1,1.06],[0.3,1.0],[0.5,1.05],[0.7,1.08],[0.9,1.03],[1.1,1.06],[1.3,1.01],[1.5,1.07],[1.7,1.04],
[-2.0,0.75],[-1.8,0.78],[-1.6,0.72],[-1.4,0.77],[-1.2,0.74],[-1.0,0.79],[-0.8,0.71],[-0.6,0.76],[-0.4,0.73],[-0.2,0.78],[0.0,0.7],[0.2,0.75],[0.4,0.72],[0.6,0.77],[0.8,0.74],[1.0,0.79],[1.2,0.71],[1.4,0.76],[1.62,0.73],
[-1.95,0.45],[-1.75,0.42],[-1.55,0.48],[-1.35,0.43],[-1.15,0.46],[-0.95,0.41],[-0.75,0.47],[-0.55,0.44],[-0.35,0.49],[-0.15,0.42],[0.05,0.46],[0.25,0.4],[0.45,0.45],[0.65,0.48],[0.85,0.43],[1.05,0.46],[1.25,0.41],[1.45,0.47],[1.6,0.44],
[-2.05,0.15],[-1.85,0.18],[-1.65,0.12],[-1.45,0.17],[-1.25,0.14],[-1.05,0.19],[-0.85,0.11],[-0.65,0.16],[-0.45,0.13],[-0.25,0.18],[-0.05,0.1],[0.15,0.15],[0.35,0.12],[0.55,0.17],[0.75,0.14],[0.95,0.19],[1.15,0.11],[1.35,0.16],[1.55,0.13],
[-2.0,-0.15],[-1.8,-0.18],[-1.6,-0.12],[-1.4,-0.17],[-1.2,-0.14],[-1.0,-0.19],[-0.8,-0.11],[-0.6,-0.16],[-0.4,-0.13],[-0.2,-0.18],[0.0,-0.1],[0.2,-0.15],[0.4,-0.12],[0.6,-0.17],[0.8,-0.14],[1.0,-0.19],[1.2,-0.11],[1.45,-0.16],
[-1.95,-0.45],[-1.75,-0.42],[-1.55,-0.48],[-1.35,-0.43],[-1.15,-0.46],[-0.95,-0.41],[-0.75,-0.47],[-0.55,-0.44],[-0.35,-0.49],[-0.15,-0.42],[0.05,-0.46],[0.25,-0.4],[0.45,-0.45],[0.65,-0.48],[0.85,-0.43],[1.05,-0.46],[1.28,-0.41],
[-1.9,-0.75],[-1.7,-0.78],[-1.5,-0.72],[-1.3,-0.77],[-1.1,-0.74],[-0.9,-0.79],[-0.7,-0.71],[-0.5,-0.76],[-0.3,-0.73],[-0.1,-0.78],[0.1,-0.7],[0.3,-0.75],[0.5,-0.72],[0.7,-0.77],[0.9,-0.74],[1.1,-0.79],[1.2,-0.71],
[-1.8,-1.05],[-1.6,-1.02],[-1.4,-1.08],[-1.2,-1.03],[-1.0,-1.06],[-0.8,-1.01],[-0.6,-1.07],[-0.4,-1.04],[-0.2,-1.09],[0.0,-1.02],[0.2,-1.06],[0.4,-1.0],[0.6,-1.05],[0.8,-1.08],[1.0,-1.03],
[-1.6,-1.35],[-1.4,-1.38],[-1.2,-1.32],[-1.0,-1.37],[-0.8,-1.34],[-0.6,-1.39],[-0.4,-1.31],[-0.2,-1.36],[0.0,-1.33],[0.2,-1.38],[0.45,-1.3],[0.7,-1.35],
[-1.3,-1.65],[-1.0,-1.62],[-0.7,-1.68],[-0.4,-1.63],[-0.1,-1.66],[0.2,-1.61],
[-0.5,2.4],[-0.3,2.42],[-0.1,2.38],[0.1,2.41],[0.3,2.37],[0.5,2.43],[0.7,2.39],[0.9,2.4],[1.1,2.36],[1.3,2.41],
[-1.1,2.1],[-0.9,2.12],[-0.7,2.08],[-0.5,2.11],[-0.3,2.07],[-0.1,2.13],[0.1,2.09],[0.3,2.1],[0.5,2.06],[0.7,2.11],[0.9,2.08],[1.1,2.12],[1.3,2.07],[1.5,2.1],
[-1.5,1.8],[-1.3,1.82],[-1.1,1.78],[-0.9,1.81],[-0.7,1.77],[-0.5,1.83],[-0.3,1.79],[-0.1,1.8],[0.1,1.76],[0.3,1.81],[0.5,1.78],[0.7,1.82],[0.9,1.77],[1.1,1.8],[1.3,1.83],[1.5,1.79],[1.6,1.8],
[-1.7,1.5],[-1.5,1.52],[-1.3,1.48],[-1.1,1.51],[-0.9,1.47],[-0.7,1.53],[-0.5,1.49],[-0.3,1.5],[-0.1,1.46],[0.1,1.51],[0.3,1.48],[0.5,1.52],[0.7,1.47],[0.9,1.5],[1.1,1.53],[1.3,1.49],[1.5,1.5],[1.7,1.48],
[-1.85,1.2],[-1.7,1.22],[-1.5,1.18],[-1.3,1.21],[-1.1,1.17],[-0.9,1.23],[-0.7,1.19],[-0.5,1.2],[-0.3,1.16],[-0.1,1.21],[0.1,1.18],[0.3,1.22],[0.5,1.17],[0.7,1.2],[0.9,1.23],[1.1,1.19],[1.3,1.2],[1.5,1.18],[1.7,1.21],
[-1.9,0.9],[-1.7,0.92],[-1.5,0.88],[-1.3,0.91],[-1.1,0.87],[-0.9,0.93],[-0.7,0.89],[-0.5,0.9],[-0.3,0.86],[-0.1,0.91],[0.1,0.88],[0.3,0.92],[0.5,0.87],[0.7,0.9],[0.9,0.93],[1.1,0.89],[1.3,0.9],[1.5,0.88],[1.68,0.91],
[-1.95,0.6],[-1.7,0.62],[-1.5,0.58],[-1.3,0.61],[-1.1,0.57],[-0.9,0.63],[-0.7,0.59],[-0.5,0.6],[-0.3,0.56],[-0.1,0.61],[0.1,0.58],[0.3,0.62],[0.5,0.57],[0.7,0.6],[0.9,0.63],[1.1,0.59],[1.3,0.6],[1.5,0.58],[1.62,0.61],
[-2.02,0.3],[-1.9,0.32],[-1.7,0.28],[-1.5,0.31],[-1.3,0.27],[-1.1,0.33],[-0.9,0.29],[-0.7,0.3],[-0.5,0.26],[-0.3,0.31],[-0.1,0.28],[0.1,0.32],[0.3,0.27],[0.5,0.3],[0.7,0.33],[0.9,0.29],[1.1,0.3],[1.3,0.28],[1.5,0.31],[1.58,0.29],
[-2.02,0.0],[-1.9,0.02],[-1.7,-0.02],[-1.5,0.01],[-1.3,-0.03],[-1.1,0.03],[-0.9,-0.01],[-0.7,0.0],[-0.5,-0.04],[-0.3,0.01],[-0.1,-0.02],[0.1,0.02],[0.3,-0.03],[0.5,0.0],[0.7,0.03],[0.9,-0.01],[1.1,0.0],[1.3,-0.02],[1.5,0.01],
[-1.97,-0.3],[-1.7,-0.28],[-1.5,-0.32],[-1.3,-0.29],[-1.1,-0.33],[-0.9,-0.27],[-0.7,-0.31],[-0.5,-0.3],[-0.3,-0.34],[-0.1,-0.29],[0.1,-0.32],[0.3,-0.28],[0.5,-0.33],[0.7,-0.3],[0.9,-0.27],[1.1,-0.31],[1.3,-0.3],
[-1.9,-0.6],[-1.7,-0.58],[-1.5,-0.62],[-1.3,-0.59],[-1.1,-0.63],[-0.9,-0.57],[-0.7,-0.61],[-0.5,-0.6],[-0.3,-0.64],[-0.1,-0.59],[0.1,-0.62],[0.3,-0.58],[0.5,-0.63],[0.7,-0.6],[0.9,-0.57],[1.1,-0.61],[1.25,-0.6],
[-1.85,-0.9],[-1.7,-0.88],[-1.5,-0.92],[-1.3,-0.89],[-1.1,-0.93],[-0.9,-0.87],[-0.7,-0.91],[-0.5,-0.9],[-0.3,-0.94],[-0.1,-0.89],[0.1,-0.92],[0.3,-0.88],[0.5,-0.93],[0.7,-0.9],[0.9,-0.87],[1.1,-0.91],
[-1.7,-1.2],[-1.5,-1.18],[-1.3,-1.22],[-1.1,-1.19],[-0.9,-1.23],[-0.7,-1.17],[-0.5,-1.21],[-0.3,-1.2],[-0.1,-1.24],[0.1,-1.19],[0.3,-1.22],[0.5,-1.18],[0.7,-1.2],[0.85,-1.21],
[-1.45,-1.5],[-1.25,-1.48],[-1.05,-1.52],[-0.85,-1.49],[-0.65,-1.53],[-0.45,-1.47],[-0.25,-1.51],[-0.05,-1.5],[0.15,-1.54],[0.35,-1.49],[0.45,-1.5]];

const p45 = [[2.05,0.7],[2.0,0.3],[1.95,1.15],[-2.4,-0.5],[-2.3,-0.2],[-2.45,0.3],[-1.9,-1.05],[-1.5,-1.1],[-0.9,-1.12],[-1.7,-0.85],[0.6,-1.0],[1.4,-0.75],[1.6,1.25],[-0.3,1.35],
[0.0,1.28],[0.25,1.3],[0.5,1.26],[0.75,1.31],[1.0,1.27],
[-0.5,1.12],[-0.3,1.14],[-0.1,1.1],[0.1,1.13],[0.3,1.11],[0.5,1.15],[0.7,1.1],[0.9,1.13],[1.1,1.11],[1.3,1.14],[1.5,1.1],
[-1.0,0.96],[-0.8,0.93],[-0.6,0.98],[-0.4,0.94],[-0.2,0.97],[0.0,0.92],[0.2,0.96],[0.4,0.99],[0.6,0.94],[0.8,0.97],[1.0,0.93],[1.2,0.98],[1.4,0.95],[1.6,0.97],[1.7,0.93],
[-1.4,0.8],[-1.2,0.83],[-1.0,0.78],[-0.8,0.82],[-0.6,0.79],[-0.4,0.84],[-0.2,0.77],[0.0,0.81],[0.2,0.78],[0.4,0.83],[0.6,0.8],[0.8,0.76],[1.0,0.82],[1.2,0.79],[1.4,0.84],[1.6,0.78],[1.8,0.81],
[-1.7,0.64],[-1.5,0.61],[-1.3,0.66],[-1.1,0.62],[-0.9,0.65],[-0.7,0.6],[-0.5,0.64],[-0.3,0.67],[-0.1,0.62],[0.1,0.65],[0.3,0.61],[0.5,0.66],[0.7,0.63],[0.9,0.67],[1.1,0.6],[1.3,0.64],[1.5,0.62],[1.7,0.66],[1.8,0.61],
[-1.9,0.48],[-1.7,0.51],[-1.5,0.46],[-1.3,0.5],[-1.1,0.47],[-0.9,0.52],[-0.7,0.45],[-0.5,0.49],[-0.3,0.46],[-0.1,0.51],[0.1,0.48],[0.3,0.44],[0.5,0.5],[0.7,0.47],[0.9,0.52],[1.1,0.46],[1.3,0.49],[1.5,0.45],[1.7,0.5],[1.8,0.47],
[-2.0,0.32],[-1.8,0.29],[-1.6,0.34],[-1.4,0.3],[-1.2,0.33],[-1.0,0.28],[-0.8,0.32],[-0.6,0.35],[-0.4,0.3],[-0.2,0.33],[0.0,0.29],[0.2,0.34],[0.4,0.31],[0.6,0.35],[0.8,0.28],[1.0,0.32],[1.2,0.3],[1.4,0.34],[1.6,0.29],[1.75,0.33],
[-2.1,0.16],[-1.9,0.19],[-1.7,0.14],[-1.5,0.18],[-1.3,0.15],[-1.1,0.2],[-0.9,0.13],[-0.7,0.17],[-0.5,0.14],[-0.3,0.19],[-0.1,0.16],[0.1,0.12],[0.3,0.18],[0.5,0.15],[0.7,0.2],[0.9,0.14],[1.1,0.17],[1.3,0.13],[1.5,0.18],[1.7,0.15],
[-2.1,0.0],[-1.9,-0.03],[-1.7,0.02],[-1.5,-0.02],[-1.3,0.01],[-1.1,-0.04],[-0.9,0.0],[-0.7,0.03],[-0.5,-0.02],[-0.3,0.01],[-0.1,-0.03],[0.1,0.02],[0.3,-0.01],[0.5,0.03],[0.7,-0.04],[0.9,0.0],[1.1,-0.02],[1.3,0.02],[1.5,-0.03],[1.6,0.01],
[-2.05,-0.16],[-1.85,-0.13],[-1.65,-0.18],[-1.45,-0.14],[-1.25,-0.17],[-1.05,-0.12],[-0.85,-0.16],[-0.65,-0.19],[-0.45,-0.14],[-0.25,-0.17],[-0.05,-0.13],[0.15,-0.18],[0.35,-0.15],[0.55,-0.19],[0.75,-0.12],[0.95,-0.16],[1.15,-0.14],[1.35,-0.18],[1.5,-0.13],
[-2.0,-0.32],[-1.8,-0.35],[-1.6,-0.3],[-1.4,-0.34],[-1.2,-0.31],[-1.0,-0.36],[-0.8,-0.29],[-0.6,-0.33],[-0.4,-0.3],[-0.2,-0.35],[0.0,-0.32],[0.2,-0.28],[0.4,-0.34],[0.6,-0.31],[0.8,-0.36],[1.0,-0.3],[1.2,-0.33],[1.4,-0.29],
[-1.9,-0.48],[-1.7,-0.45],[-1.5,-0.5],[-1.3,-0.46],[-1.1,-0.49],[-0.9,-0.44],[-0.7,-0.48],[-0.5,-0.51],[-0.3,-0.46],[-0.1,-0.49],[0.1,-0.45],[0.3,-0.5],[0.5,-0.47],[0.7,-0.51],[0.9,-0.44],[1.1,-0.48],[1.2,-0.46],
[-1.7,-0.64],[-1.5,-0.67],[-1.3,-0.62],[-1.1,-0.66],[-0.9,-0.63],[-0.7,-0.68],[-0.5,-0.61],[-0.3,-0.65],[-0.1,-0.62],[0.1,-0.67],[0.3,-0.64],[0.5,-0.6],[0.7,-0.66],[0.9,-0.63],[1.0,-0.67],
[-1.4,-0.8],[-1.2,-0.77],[-1.0,-0.82],[-0.8,-0.78],[-0.6,-0.81],[-0.4,-0.76],[-0.2,-0.8],[0.0,-0.83],[0.2,-0.78],[0.4,-0.81],[0.6,-0.77],
[-1.1,-0.95],[-0.8,-0.97],[-0.5,-0.93],[-0.2,-0.96],[0.1,-0.94],
[-0.3,1.2],[-0.1,1.21],[0.1,1.19],[0.3,1.22],[0.5,1.2],[0.7,1.18],[0.9,1.21],[1.1,1.19],[1.3,1.2],
[-0.8,1.04],[-0.6,1.05],[-0.4,1.03],[-0.2,1.06],[0.0,1.04],[0.2,1.02],[0.4,1.05],[0.6,1.03],[0.8,1.04],[1.0,1.06],[1.2,1.03],[1.4,1.05],[1.6,1.04],
[-1.2,0.88],[-1.0,0.89],[-0.8,0.87],[-0.6,0.9],[-0.4,0.88],[-0.2,0.86],[0.0,0.89],[0.2,0.87],[0.4,0.88],[0.6,0.9],[0.8,0.87],[1.0,0.89],[1.2,0.88],[1.4,0.86],[1.6,0.89],[1.75,0.88],
[-1.55,0.72],[-1.4,0.73],[-1.2,0.71],[-1.0,0.74],[-0.8,0.72],[-0.6,0.7],[-0.4,0.73],[-0.2,0.71],[0.0,0.72],[0.2,0.74],[0.4,0.71],[0.6,0.73],[0.8,0.72],[1.0,0.7],[1.2,0.73],[1.4,0.71],[1.6,0.72],[1.8,0.74],
[-1.8,0.56],[-1.6,0.57],[-1.4,0.55],[-1.2,0.58],[-1.0,0.56],[-0.8,0.54],[-0.6,0.57],[-0.4,0.55],[-0.2,0.56],[0.0,0.58],[0.2,0.55],[0.4,0.57],[0.6,0.56],[0.8,0.54],[1.0,0.57],[1.2,0.55],[1.4,0.56],[1.6,0.58],[1.8,0.55],
[-1.95,0.4],[-1.8,0.41],[-1.6,0.39],[-1.4,0.42],[-1.2,0.4],[-1.0,0.38],[-0.8,0.41],[-0.6,0.39],[-0.4,0.4],[-0.2,0.42],[0.0,0.39],[0.2,0.41],[0.4,0.4],[0.6,0.38],[0.8,0.41],[1.0,0.39],[1.2,0.4],[1.4,0.42],[1.6,0.39],[1.78,0.4],
[-2.05,0.24],[-1.9,0.25],[-1.7,0.23],[-1.5,0.26],[-1.3,0.24],[-1.1,0.22],[-0.9,0.25],[-0.7,0.23],[-0.5,0.24],[-0.3,0.26],[-0.1,0.23],[0.1,0.25],[0.3,0.24],[0.5,0.22],[0.7,0.25],[0.9,0.23],[1.1,0.24],[1.3,0.26],[1.5,0.23],[1.7,0.24],
[-2.1,0.08],[-2.0,0.09],[-1.8,0.07],[-1.6,0.1],[-1.4,0.08],[-1.2,0.06],[-1.0,0.09],[-0.8,0.07],[-0.6,0.08],[-0.4,0.1],[-0.2,0.07],[0.0,0.09],[0.2,0.08],[0.4,0.06],[0.6,0.09],[0.8,0.07],[1.0,0.08],[1.2,0.1],[1.4,0.07],[1.6,0.08],
[-2.1,-0.08],[-2.0,-0.07],[-1.8,-0.09],[-1.6,-0.06],[-1.4,-0.08],[-1.2,-0.1],[-1.0,-0.07],[-0.8,-0.09],[-0.6,-0.08],[-0.4,-0.06],[-0.2,-0.09],[0.0,-0.07],[0.2,-0.08],[0.4,-0.1],[0.6,-0.07],[0.8,-0.09],[1.0,-0.08],[1.2,-0.06],[1.4,-0.09],[1.55,-0.08],
[-2.05,-0.24],[-1.9,-0.23],[-1.7,-0.25],[-1.5,-0.22],[-1.3,-0.24],[-1.1,-0.26],[-0.9,-0.23],[-0.7,-0.25],[-0.5,-0.24],[-0.3,-0.22],[-0.1,-0.25],[0.1,-0.23],[0.3,-0.24],[0.5,-0.26],[0.7,-0.23],[0.9,-0.25],[1.1,-0.24],[1.3,-0.22],[1.45,-0.25],
[-1.95,-0.4],[-1.8,-0.39],[-1.6,-0.41],[-1.4,-0.38],[-1.2,-0.4],[-1.0,-0.42],[-0.8,-0.39],[-0.6,-0.41],[-0.4,-0.4],[-0.2,-0.38],[0.0,-0.41],[0.2,-0.39],[0.4,-0.4],[0.6,-0.42],[0.8,-0.39],[1.0,-0.41],[1.2,-0.4],[1.3,-0.38],
[-1.8,-0.56],[-1.6,-0.55],[-1.4,-0.57],[-1.2,-0.54],[-1.0,-0.56],[-0.8,-0.58],[-0.6,-0.55],[-0.4,-0.57],[-0.2,-0.56],[0.0,-0.54],[0.2,-0.57],[0.4,-0.55],[0.6,-0.56],[0.8,-0.58],[1.0,-0.55],[1.1,-0.56],
[-1.55,-0.72],[-1.4,-0.71],[-1.2,-0.73],[-1.0,-0.7],[-0.8,-0.72],[-0.6,-0.74],[-0.4,-0.71],[-0.2,-0.73],[0.0,-0.72],[0.2,-0.7],[0.4,-0.73],[0.6,-0.71],[0.8,-0.72],
[-1.25,-0.88],[-1.05,-0.87],[-0.85,-0.89],[-0.65,-0.86],[-0.45,-0.88],[-0.25,-0.9],[-0.05,-0.87],[0.15,-0.89],[0.35,-0.88],[0.45,-0.87]];

const panelData = {'0-1':p12,'0-2':p13,'0-3':p14,'0-4':p15,'1-2':p23,'1-3':p24,'1-4':p25,'2-3':p34,'2-4':p35,'3-4':p45};

// ---------- layout ----------
const LEFT = 50, TOP = 47, CW = 168.4, CH = 121, GAP = 20, N = 5;
const FONT = '"Liberation Sans", Arial, Helvetica, sans-serif';

const grids = [], xAxes = [], yAxes = [], series = [], graphics = [];
function fmt(k){ return v => tickDecimals[k] ? Number(v).toFixed(1) : String(Math.round(v)); }
for (let i = 0; i < N; i++) {
  for (let j = 0; j < N; j++) {
    const idx = i * N + j;
    const left = LEFT + j * (CW + GAP), top = TOP + i * (CH + GAP);
    grids.push({left: left, top: top, width: CW, height: CH, show: true, borderColor: '#333', borderWidth: 1,
      backgroundColor: 'transparent', containLabel: false, outerBoundsMode: 'none'});
    const showX = (j % 2 === 0) ? (i === N - 1) : (i === 0);
    const showY = (i % 2 === 0) ? (j === N - 1) : (j === 0);
    xAxes.push({gridIndex: idx, type: 'value', min: axisMin[j], max: axisMax[j], show: showX,
      position: (j % 2 === 0) ? 'bottom' : 'top',
      axisLine: {show: true, onZero: false, lineStyle: {color: '#000', width: 1}},
      axisTick: {show: true, inside: false, length: 10, customValues: tickValues[j], lineStyle: {color: '#000', width: 1}},
      axisLabel: {show: true, customValues: xLabelValues[j], formatter: fmt(j), margin: 19, fontSize: 12, color: '#111', fontFamily: FONT},
      splitLine: {show: false}});
    yAxes.push({gridIndex: idx, type: 'value', min: axisMin[i], max: axisMax[i], show: showY,
      position: (i % 2 === 0) ? 'right' : 'left',
      axisLine: {show: true, onZero: false, lineStyle: {color: '#000', width: 1}},
      axisTick: {show: true, inside: false, length: 10, customValues: tickValues[i], lineStyle: {color: '#000', width: 1}},
      axisLabel: {show: true, rotate: 90, customValues: yLabelValues[i], formatter: fmt(i), margin: 21, fontSize: 12, color: '#111', fontFamily: FONT},
      splitLine: {show: false}});
    const cx = left + CW / 2, cy = top + CH / 2;
    if (i < j) {
      series.push({type: 'scatter', xAxisIndex: idx, yAxisIndex: idx, data: panelData[i + '-' + j],
        symbol: 'circle', symbolSize: 8, itemStyle: {color: '#000', opacity: 1}, silent: true});
    } else {
      const txt = (i === j) ? varNames[i] : String(corrValues[i - 1][j]);
      graphics.push({type: 'text', x: cx, y: cy + 1, silent: true,
        style: {text: txt, fill: '#000', font: '32px ' + FONT, fontSize: 32, fontFamily: FONT,
          textAlign: 'center', textVerticalAlign: 'middle', align: 'center', verticalAlign: 'middle', lineHeight: 40}});
    }
  }
}

const chart = echarts.init(document.getElementById('c'), null, {renderer: 'canvas'});
chart.setOption({
  animation: false,
  backgroundColor: '#fff',
  grid: grids, xAxis: xAxes, yAxis: yAxes, series: series, graphic: graphics
});
</script>
</body></html>
